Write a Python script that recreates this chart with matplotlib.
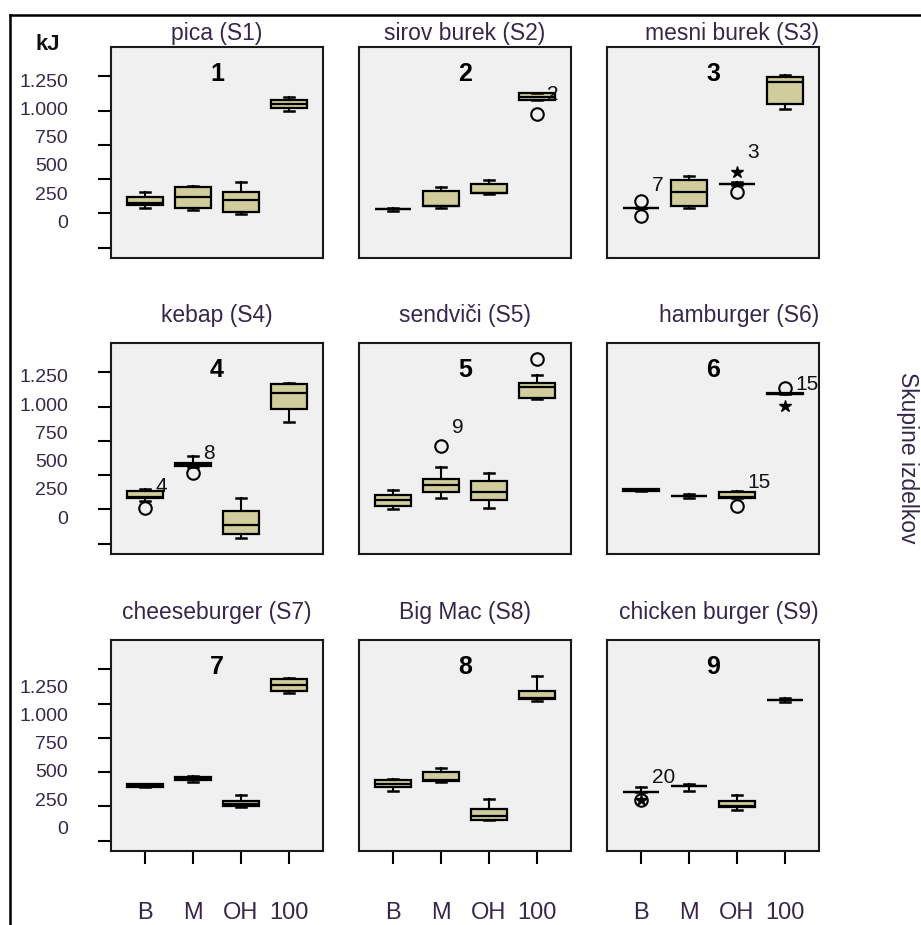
import matplotlib
matplotlib.use("Agg")
import matplotlib.pyplot as plt
from matplotlib.lines import Line2D

W, H = 921, 925

titles = ["pica (S1)", "sirov burek (S2)", "mesni burek (S3)",
          "kebap (S4)", "sendviči (S5)", "hamburger (S6)",
          "cheeseburger (S7)", "Big Mac (S8)", "chicken burger (S9)"]
categories = ["B", "M", "OH", "100"]
y_ticks = [0, 250, 500, 750, 1000, 1250]
y_ticklabels = ["0", "250", "500", "750", "1.000", "1.250"]

# box statistics per product group, columns = B, M, OH, 100 (kJ)
q1 = [[314, 290, 258, 1021],
      [283, 302, 397, 1080],
      [290, 302, 466, 1050],
      [333, 565, 71, 980],
      [278, 378, 322, 1065],
      [386, 346, 334, 1090],
      [395, 440, 256, 1091],
      [390, 434, 154, 1031],
      [353, 402, 243, 1028]]
med = [[325, 368, 351, 1048],
       [283, 305, 400, 1100],
       [290, 404, 466, 1208],
       [338, 577, 134, 1102],
       [322, 426, 378, 1145],
       [392, 346, 337, 1094],
       [405, 451, 268, 1133],
       [414, 444, 183, 1040],
       [353, 402, 250, 1028]]
q3 = [[368, 446, 409, 1075],
      [283, 412, 461, 1128],
      [290, 497, 466, 1245],
      [382, 585, 236, 1162],
      [353, 473, 455, 1175],
      [399, 346, 375, 1098],
      [415, 462, 292, 1181],
      [439, 499, 232, 1096],
      [353, 402, 292, 1028]]
whislo = [[290, 276, 246, 994],
          [270, 290, 393, 1080],
          [290, 290, 455, 1014],
          [309, 558, 44, 890],
          [249, 334, 261, 1058],
          [386, 333, 334, 1090],
          [395, 425, 243, 1077],
          [361, 430, 150, 1018],
          [353, 365, 227, 1012]]
whishi = [[409, 453, 482, 1099],
          [292, 441, 497, 1128],
          [290, 526, 478, 1257],
          [400, 638, 334, 1175],
          [395, 558, 517, 1228],
          [399, 363, 387, 1098],
          [415, 475, 334, 1185],
          [451, 528, 305, 1199],
          [390, 412, 336, 1042]]

# outlying cases: (panel, category, value, marker)
outliers = [(1, 3, 977, "o"),
            (2, 0, 343, "o"), (2, 0, 234, "o"), (2, 2, 550, "*"), (2, 2, 404, "o"),
            (3, 0, 260, "o"), (3, 1, 517, "o"),
            (4, 1, 711, "o"), (4, 3, 1350, "o"),
            (5, 2, 273, "o"), (5, 3, 1004, "*"), (5, 3, 1140, "o"),
            (8, 0, 300, "o"), (8, 0, 300, "*")]
# case numbers printed next to outliers: (panel, category, value, text)
case_labels = [(1, 3, 1120, "2"),
               (2, 0, 453, "7"), (2, 2, 697, "3"),
               (3, 0, 419, "4"), (3, 1, 658, "8"),
               (4, 1, 846, "9"),
               (5, 2, 448, "15"), (5, 3, 1162, "15"),
               (8, 0, 463, "20")]

# vertical offset of the printed y labels in each row
label_shift = [192, 194, 97]
label_scale = 0.825

box_color = "#d0cc9b"
text_color = "#35284a"

col_left = [111, 359, 607]
row_top = [47, 343, 640]
pw, ph = 212, 211

fig = plt.figure(figsize=(W / 100, H / 100), dpi=100)
fig.patch.set_facecolor("white")
plt.rcParams["font.family"] = ["Liberation Sans", "DejaVu Sans"]

for i in range(9):
    r, c = divmod(i, 3)
    ax = fig.add_axes([col_left[c] / W, 1 - (row_top[r] + ph) / H, pw / W, ph / H])
    ax.set_facecolor("#f0f0f0")
    for s in ax.spines.values():
        s.set_linewidth(1.5)
        s.set_color("#1a1a1a")

    stats = []
    for k in range(4):
        stats.append(dict(med=med[i][k], q1=q1[i][k], q3=q3[i][k],
                          whislo=whislo[i][k], whishi=whishi[i][k], fliers=[]))
    ax.bxp(stats, positions=range(4), widths=0.76, capwidths=0.22,
           patch_artist=True, showfliers=False,
           boxprops=dict(facecolor=box_color, edgecolor="black", linewidth=1.6),
           medianprops=dict(color="black", linewidth=1.6),
           whiskerprops=dict(color="black", linewidth=1.5),
           capprops=dict(color="black", linewidth=1.8))

    for p, k, v, m in outliers:
        if p == i:
            if m == "o":
                ax.plot(k, v, "o", mfc="none", mec="black", ms=9, mew=1.5)
            else:
                ax.plot(k, v, "*", color="black", ms=9)
    for p, k, v, t in case_labels:
        if p == i:
            ax.text(k + 0.22, v, t, fontsize=15, color="#111111",
                    family=["Liberation Sans Narrow", "Liberation Sans"],
                    ha="left", va="center")

    ax.set_xlim(-0.71, 3.71)
    ax.set_ylim(-76, 1465)
    ax.set_yticks(y_ticks)
    ax.set_xticks(range(4))

    ax.text(0.5, 1 - 27 / ph, str(i + 1), transform=ax.transAxes,
            ha="center", va="center", fontsize=18, fontweight="bold",
            family=["Liberation Sans Narrow", "Liberation Sans"])

    if c == 2:
        ax.set_title(titles[i], loc="right", fontsize=16.5, color=text_color,
                     pad=5 if r == 0 else 15)
    else:
        ax.set_title(titles[i], fontsize=16.5, color=text_color,
                     pad=5 if r == 0 else 15)

    if c == 0:
        ax.tick_params(axis="y", length=9.5, width=1.5, direction="out",
                       labelleft=False)
        a = label_shift[r]
        sec = ax.secondary_yaxis(
            "left",
            functions=(lambda p, a=a: (p - a) / label_scale,
                       lambda s, a=a: a + label_scale * s))
        sec.set_yticks(y_ticks)
        sec.set_yticklabels(y_ticklabels)
        sec.tick_params(length=0, pad=31, labelsize=14, labelcolor=text_color)
        sec.spines["left"].set_visible(False)
    else:
        ax.tick_params(axis="y", left=False, labelleft=False)

    if r == 2:
        ax.set_xticklabels(categories)
        ax.tick_params(axis="x", length=9.5, width=1.5, direction="out",
                       pad=27, labelsize=17, labelcolor=text_color)
    else:
        ax.tick_params(axis="x", bottom=False, labelbottom=False)

fig.text(48 / W, 1 - 44 / H, "kJ", ha="center", va="center",
         fontsize=16, fontweight="bold", color="#111111")
fig.text(907 / W, 1 - 458 / H, "Skupine izdelkov", rotation=270,
         ha="center", va="center", fontsize=16.5, color=text_color)

# border along the top and left edge
fig.add_artist(Line2D([10 / W, 1], [1 - 15 / H, 1 - 15 / H],
                      transform=fig.transFigure, color="black", lw=1.8))
fig.add_artist(Line2D([10 / W, 10 / W], [1 - 15 / H, 0],
                      transform=fig.transFigure, color="black", lw=1.8))

fig.savefig("out.png", dpi=100)
